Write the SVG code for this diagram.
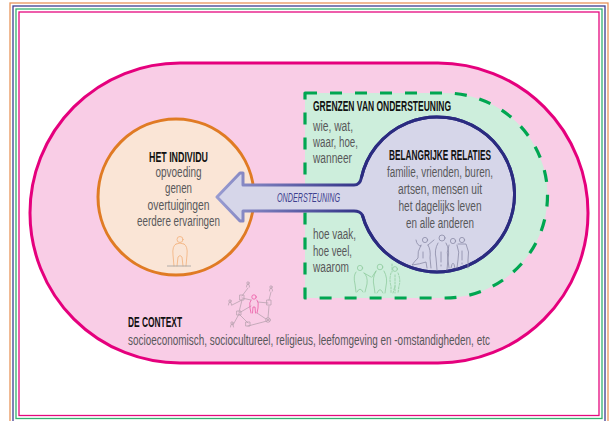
<svg xmlns="http://www.w3.org/2000/svg" width="611" height="421" viewBox="0 0 611 421">
  <defs>
    <linearGradient id="arrowStroke" gradientUnits="userSpaceOnUse" x1="215" y1="0" x2="365" y2="0">
      <stop offset="0" stop-color="#9a9dd2"/>
      <stop offset="1" stop-color="#2d2e84"/>
    </linearGradient>
    <style>
      .frame { fill: none; stroke-width: 1.3; }
      .head { font-family: "Liberation Sans", Arial, sans-serif; font-weight: bold; font-size: 14px; fill: #111; }
      .body { font-family: "Liberation Sans", Arial, sans-serif; font-size: 14px; fill: #58585a; }
      .mid { text-anchor: middle; }
      .icon { fill: none; stroke-width: 0.8; stroke-linecap: round; stroke-linejoin: round; }
    </style>
  </defs>

  <rect width="611" height="421" fill="#ffffff"/>

  <!-- stacked frame lines -->
  <g id="frames">
    <rect class="frame" x="10" y="3" width="598" height="430" stroke="#e8965c"/>
    <rect class="frame" x="13" y="6" width="592" height="424" stroke="#3c3d90"/>
    <rect class="frame" x="16" y="9" width="586" height="409.5" stroke="#35b270"/>
    <rect class="frame" x="19" y="12" width="580" height="403.5" stroke="#e5097f"/>
  </g>

  <!-- context: the large rounded field -->
  <g id="context">
    <path d="M180,63 L438,63 A150,150 0 0 1 438,363 L180,363 A150,150 0 0 1 180,63 Z" fill="#f9cde6" stroke="#e5007d" stroke-width="3"/>
    <!-- network sketch -->
    <g class="icon" stroke="#b9a2b0">
      <path d="M248,288 L242,296 M242,300 L232,305 M242,300 L239,312 M239,314 L233,325 M239,314 L248,323 M248,326 L267,321 M268,318 L269,306 M269,300 L271,292 M242,298 L251,300 M258,302 L268,303 M239,313 L251,306 M257,313 L266,319"/>
      <rect x="240" y="295" width="4" height="5"/>
      <rect x="237" y="311" width="4" height="4"/>
      <rect x="246" y="322" width="4" height="4"/>
      <rect x="267" y="300" width="4" height="5"/>
      <circle cx="268" cy="320" r="2.3"/>
      <path d="M266.5,318.5 L269.5,321.5 M269.5,318.5 L266.5,321.5"/>
      <circle cx="248" cy="283" r="1.2"/><path d="M246.5,287 L247,284.5 L249,284.5 L249.5,287"/>
      <circle cx="230" cy="301" r="1.2"/><path d="M228.5,305 L229,302.5 L231,302.5 L231.5,305"/>
      <circle cx="232" cy="323" r="1.2"/><path d="M230.5,327 L231,324.5 L233,324.5 L233.5,327"/>
      <circle cx="271" cy="287" r="1.2"/><path d="M269.5,291 L270,288.5 L272,288.5 L272.5,291"/>
    </g>
    <g class="icon" stroke="#ec5ba6" stroke-width="1">
      <circle cx="254" cy="297" r="2.2"/>
      <path d="M251,300 Q249,302 250,308 L251,313 M257,300 Q259,302 258,308 L257,313 M252.5,313 L253,307 L255,307 L255.5,313"/>
    </g>
    <text class="head" x="128" y="327" textLength="54" lengthAdjust="spacingAndGlyphs">DE CONTEXT</text>
    <text class="body" transform="translate(128,345) scale(0.7,1)" x="0" y="0" textLength="517" lengthAdjust="spacingAndGlyphs">socioeconomisch, sociocultureel, religieus, leefomgeving en -omstandigheden, etc</text>
  </g>

  <!-- boundaries of support -->
  <g id="grenzen">
    <path d="M305,93 L445,93 A102.5,102.5 0 0 1 445,298 L305,298 Z" fill="#cdeedc" stroke="#00a651" stroke-width="3.2" stroke-dasharray="12 13" stroke-linejoin="round"/>
    <text class="head" x="313" y="111" textLength="138" lengthAdjust="spacingAndGlyphs">GRENZEN VAN ONDERSTEUNING</text>
    <text class="body" x="313" y="130.5" textLength="40" lengthAdjust="spacingAndGlyphs">wie, wat,</text>
    <text class="body" x="313" y="146.5" textLength="45" lengthAdjust="spacingAndGlyphs">waar, hoe,</text>
    <text class="body" x="313" y="162.5" textLength="39" lengthAdjust="spacingAndGlyphs">wanneer</text>
    <text class="body" x="313" y="239" textLength="43" lengthAdjust="spacingAndGlyphs">hoe vaak,</text>
    <text class="body" x="313" y="255.5" textLength="39" lengthAdjust="spacingAndGlyphs">hoe veel,</text>
    <text class="body" x="313" y="272" textLength="36" lengthAdjust="spacingAndGlyphs">waarom</text>
    <!-- three people -->
    <g class="icon" stroke="#8fcc9e">
      <circle cx="360" cy="268" r="2.6"/>
      <path d="M356,272 Q353,276 355,284 L356,292 M357,292 Q360,286 363,292 M364,273 Q368,276 367,284 L365,292 M364,273 L371,277"/>
      <circle cx="380" cy="267" r="2.8"/>
      <path d="M376,271 L372,277 M376,271 Q372,278 374,286 L375,293 M377,293 Q380,286 383,293 M384,271 Q388,278 386,286 L385,293"/>
      <circle cx="395" cy="269" r="2.4"/>
      <path d="M392,264 L392,272 M391,273 Q389,280 391,286 L391,293 M393,293 L395,286 M398,273 Q401,280 399,286 L398,293 M395,275 L395,293" stroke-dasharray="2 1.5"/>
    </g>
  </g>

  <!-- the individual -->
  <g id="individu">
    <circle cx="176" cy="197" r="78" fill="#fae5d6" stroke="#e07b24" stroke-width="3"/>
    <text class="head mid" x="178.5" y="162" textLength="59" lengthAdjust="spacingAndGlyphs">HET INDIVIDU</text>
    <text class="body mid" x="178.5" y="177" textLength="46" lengthAdjust="spacingAndGlyphs">opvoeding</text>
    <text class="body mid" x="178.5" y="193.3" textLength="27" lengthAdjust="spacingAndGlyphs">genen</text>
    <text class="body mid" x="178.5" y="209.6" textLength="62" lengthAdjust="spacingAndGlyphs">overtuigingen</text>
    <text class="body mid" x="178.5" y="226" textLength="83" lengthAdjust="spacingAndGlyphs">eerdere ervaringen</text>
    <g class="icon" stroke="#f2b07a">
      <circle cx="180" cy="239.5" r="3"/>
      <path d="M176,244 Q172,246 173,255 L174,266 M184,244 Q188,246 187,255 L186,266 M177,266 L178,257 Q180,254 182,257 L183,266 M176,244 Q180,242 184,244"/>
    </g>
    <path d="M167,266 L191,266" stroke="#a0a0a0" stroke-width="0.8"/>
  </g>

  <!-- connectors -->
  <g id="connectors">
    <!-- support arrow grows out of the relations circle -->
    <path d="M217,197 L240,173 L243,173 L243,185 L354,185 Q360,185 361.3,178 A77.5,77.5 0 1 1 362.3,215 Q360,211 354,211 L243,211 L243,221 L240,221 Z" fill="#d6d6e9" stroke="url(#arrowStroke)" stroke-width="3" stroke-linejoin="round"/>
    <text x="308.5" y="202" text-anchor="middle" font-family="'Liberation Sans', Arial, sans-serif" font-style="italic" font-size="12" fill="#3d3f8e" textLength="63" lengthAdjust="spacingAndGlyphs">ONDERSTEUNING</text>
  </g>

  <!-- important relations -->
  <g id="relaties">
    <path d="M361.3,178 A77.5,77.5 0 1 1 362.3,215" fill="none" stroke="#2b2b80" stroke-width="3"/>
    <text class="head mid" x="440" y="160" textLength="102" lengthAdjust="spacingAndGlyphs">BELANGRIJKE RELATIES</text>
    <text class="body mid" x="440" y="177" textLength="106" lengthAdjust="spacingAndGlyphs">familie, vrienden, buren,</text>
    <text class="body mid" x="440" y="194" textLength="84" lengthAdjust="spacingAndGlyphs">artsen, mensen uit</text>
    <text class="body mid" x="440" y="211" textLength="83" lengthAdjust="spacingAndGlyphs">het dagelijks leven</text>
    <text class="body mid" x="440" y="228" textLength="68" lengthAdjust="spacingAndGlyphs">en alle anderen</text>
    <!-- group of four people -->
    <g class="icon" stroke="#8a8aa6">
      <circle cx="425" cy="240" r="2.6"/>
      <path d="M416,240 Q417,246 421,246 M421,245 Q417,252 418,258 Q414,262 412,265 Q420,264 426,262 L427,268 M428,245 Q431,250 430,258 L431,268 M423,252 L423,258"/>
      <circle cx="442" cy="238" r="3"/>
      <path d="M428,245 L434,240 M438,243 Q434,250 436,258 L437,270 M446,243 Q450,250 448,258 L447,270 M441,252 L441,262 M441,265 L441,266"/>
      <circle cx="453" cy="241" r="2.6"/>
      <path d="M449,245 Q446,252 448,260 L449,268 M457,245 Q460,252 458,260 L457,268 M451,268 Q453,258 455,268"/>
      <circle cx="462" cy="240" r="2.6"/>
      <path d="M458,244 L466,244 Q470,252 468,260 L468,268 M462,251 L462,260 M462,263 L462,264"/>
    </g>
  </g>
</svg>
